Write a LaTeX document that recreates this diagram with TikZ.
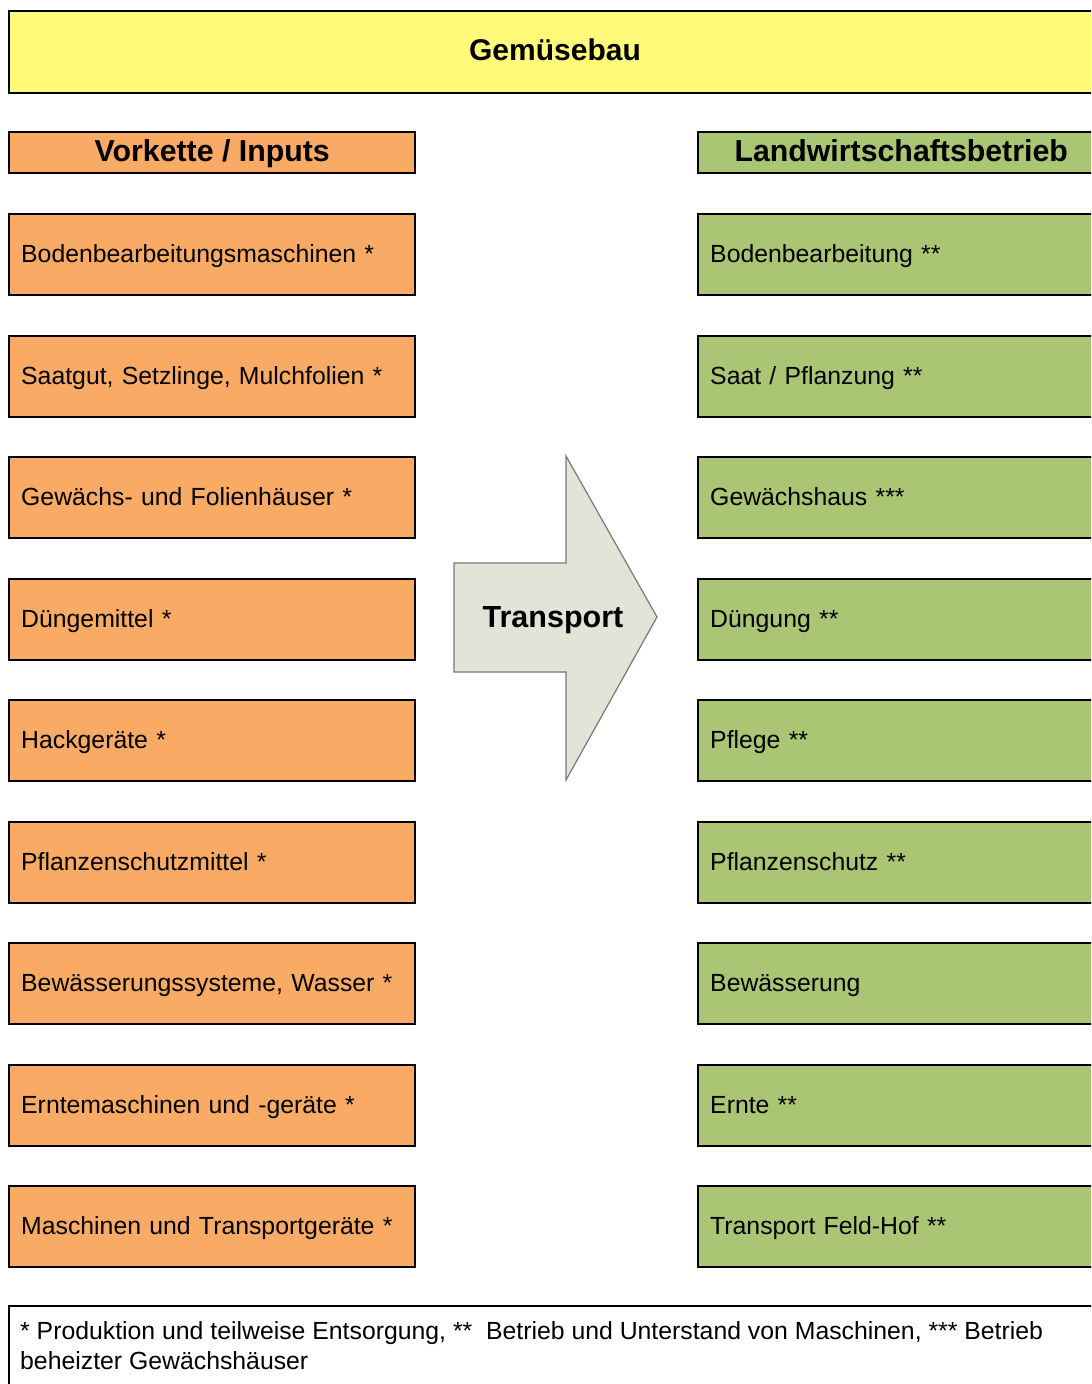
\documentclass[tikz,border=0pt]{standalone}
\usepackage{fontspec}
\setmainfont{Liberation Sans}
\definecolor{ybox}{RGB}{255,250,122}
\definecolor{obox}{RGB}{249,170,100}
\definecolor{gbox}{RGB}{170,197,115}
\definecolor{arrowfill}{RGB}{227,227,215}
\definecolor{arrowline}{RGB}{120,120,120}
\tikzset{
  frame/.style={draw=black, line width=2.4bp, rectangle, anchor=north west, inner ysep=0pt},
  itembox/.style={frame, text width=382bp, inner xsep=12bp, minimum height=81bp, align=left,
    text height=15.6bp, text depth=0pt, font=\fontsize{24.8bp}{29bp}\selectfont},
  leftbox/.style={itembox, fill=obox},
  rightbox/.style={itembox, fill=gbox},
  headbox/.style={frame, minimum width=406bp, minimum height=41bp, inner xsep=0pt,
    text height=17.6bp, text depth=0pt, font=\bfseries\fontsize{30.3bp}{34bp}\selectfont},
}
\begin{document}
\begin{tikzpicture}[x=1bp,y=-1bp]
\useasboundingbox (0,0) rectangle (1091,1384);
\clip (0,0) rectangle (1091,1384);
\fill[white] (0,0) rectangle (1091,1384);
% title
\node[frame, fill=ybox, minimum width=1095bp, minimum height=82bp, inner xsep=0pt] (title) at (8,10) {};
\node[font=\bfseries\fontsize{30bp}{34bp}\selectfont] (titletext) at (555,50) {Gemüsebau};
% headers
\node[headbox, fill=obox] (lhead) at (8,131) {Vorkette / Inputs};
\node[headbox, fill=gbox] (rhead) at (697,131) {Landwirtschaftsbetrieb};
% left column
\node[leftbox] (l1) at (8,213) {Bodenbearbeitungsmaschinen *};
\node[leftbox] (l2) at (8,334.5) {Saatgut, Setzlinge, Mulchfolien *};
\node[leftbox] (l3) at (8,456) {Gewächs- und Folienhäuser *};
\node[leftbox] (l4) at (8,577.5) {Düngemittel *};
\node[leftbox] (l5) at (8,699) {Hackgeräte *};
\node[leftbox] (l6) at (8,820.5) {Pflanzenschutzmittel *};
\node[leftbox] (l7) at (8,942) {Bewässerungssysteme, Wasser *};
\node[leftbox] (l8) at (8,1063.5) {Erntemaschinen und -geräte *};
\node[leftbox] (l9) at (8,1185) {Maschinen und Transportgeräte *};
% right column
\node[rightbox] (r1) at (697,213) {Bodenbearbeitung **};
\node[rightbox] (r2) at (697,334.5) {Saat / Pflanzung **};
\node[rightbox] (r3) at (697,456) {Gewächshaus ***};
\node[rightbox] (r4) at (697,577.5) {Düngung **};
\node[rightbox] (r5) at (697,699) {Pflege **};
\node[rightbox] (r6) at (697,820.5) {Pflanzenschutz **};
\node[rightbox] (r7) at (697,942) {Bewässerung};
\node[rightbox] (r8) at (697,1063.5) {Ernte **};
\node[rightbox] (r9) at (697,1185) {Transport Feld-Hof **};
% transport arrow
\draw[fill=arrowfill, draw=arrowline, line width=1.2bp, line join=miter]
  (454,563) -- (566,563) -- (566,456) -- (657,617) -- (566,780) -- (566,672) -- (454,672) -- cycle;
\node[font=\bfseries\fontsize{30.5bp}{34bp}\selectfont] (transport) at (553,620) {Transport};
% footnote
\node[frame, minimum width=1095bp, minimum height=110bp, inner xsep=0pt] (foot) at (8,1305) {};
\node[anchor=north west, inner sep=0pt, align=left, font=\fontsize{24.8bp}{30bp}\selectfont] (foottext) at (20,1321.5)
  {* Produktion und teilweise Entsorgung, **\ \ Betrieb und Unterstand von Maschinen, *** Betrieb\\beheizter Gewächshäuser};
\end{tikzpicture}
\end{document}
